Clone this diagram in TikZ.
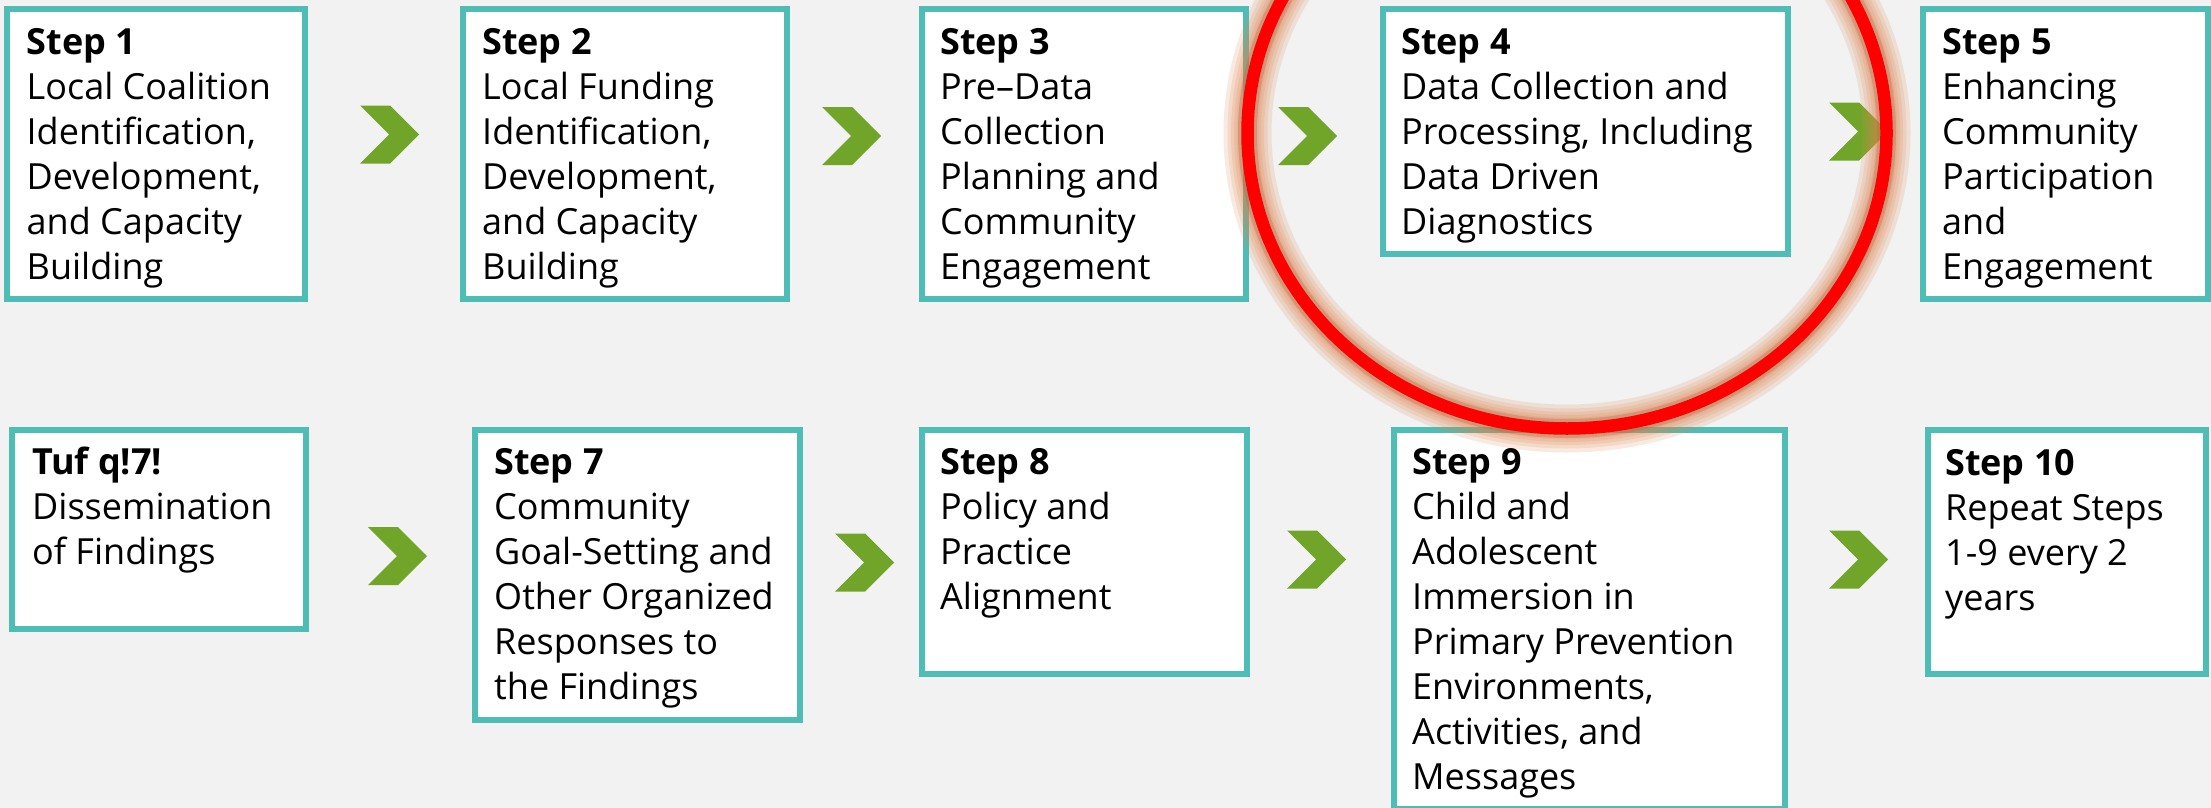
\documentclass[tikz,border=0pt]{standalone}
\usepackage{fontspec}
\setmainfont{Open Sans}
\definecolor{bgc}{HTML}{F2F2F2}
\definecolor{tealc}{HTML}{4DBDB5}
\definecolor{chevc}{HTML}{71A52A}
\definecolor{ringc}{HTML}{FF0000}
\definecolor{glowc}{HTML}{E0834F}
\definecolor{glowdk}{HTML}{B06A4A}
\newcommand{\firstln}{\rule{0pt}{30pt}}
\tikzset{
  stepbox/.style={draw=tealc, line width=6pt, fill=white, inner sep=0pt, rectangle},
  steptext/.style={anchor=north west, align=left, inner sep=0pt, font=\fontsize{36}{45}\selectfont},
  chevron/.pic={\fill[chevc] (0,-29) -- (30,-29) -- (59,0) -- (30,29) -- (0,29) -- (29,0) -- cycle;},
  glowring/.style={draw=glowc, line width=#1, opacity=0.17},
}
\begin{document}
\begin{tikzpicture}[x=1pt,y=-1pt]
\useasboundingbox (0,0) rectangle (2211,808);
\fill[bgc] (0,0) rectangle (2211,808);

% boxes, top row
\node[stepbox, minimum width=298, minimum height=290] (b1) at (156,154) {};
\node[stepbox, minimum width=324, minimum height=290] (b2) at (625,154) {};
\node[stepbox, minimum width=324, minimum height=290] (b3) at (1084,154) {};
\node[stepbox, minimum width=405, minimum height=245] (b4) at (1585.5,131.5) {};
\node[stepbox, minimum width=285, minimum height=290] (b5) at (2065.5,154) {};
% boxes, bottom row
\node[stepbox, minimum width=294, minimum height=199] (b6) at (159,529.5) {};
\node[stepbox, minimum width=325, minimum height=290] (b7) at (637.5,575) {};
\node[stepbox, minimum width=325, minimum height=244] (b8) at (1084.5,552) {};
\node[stepbox, minimum width=391, minimum height=379] (b9) at (1589.5,619.5) {};
\node[stepbox, minimum width=278, minimum height=244] (b10) at (2067,552) {};

% texts (first baseline = anchor y + 30)
\node[steptext] (t1) at (26.5,24) {\firstln\textbf{Step 1}\\Local Coalition\\Identification,\\Development,\\and Capacity\\Building};
\node[steptext] (t2) at (482,24) {\firstln\textbf{Step 2}\\Local Funding\\Identification,\\Development,\\and Capacity\\Building};
\node[steptext] (t3) at (940,24) {\firstln\textbf{Step 3}\\Pre–Data\\Collection\\Planning and\\Community\\Engagement};
\node[steptext] (t4) at (1401,24) {\firstln\textbf{Step 4}\\Data Collection and\\Processing, Including\\Data Driven\\Diagnostics};
\node[steptext] (t5) at (1942,24) {\firstln\textbf{Step 5}\\Enhancing\\Community\\Participation\\and\\Engagement};
\node[steptext] (t6) at (32,444) {\firstln\textbf{Tuf q!7!}\\Dissemination\\of Findings};
\node[steptext] (t7) at (494,444) {\firstln\textbf{Step 7}\\Community\\Goal-Setting and\\Other Organized\\Responses to\\the Findings};
\node[steptext] (t8) at (940,444) {\firstln\textbf{Step 8}\\Policy and\\Practice\\Alignment};
\node[steptext] (t9) at (1412,444) {\firstln\textbf{Step 9}\\Child and\\Adolescent\\Immersion in\\Primary Prevention\\Environments,\\Activities, and\\Messages};
\node[steptext] (t10) at (1945,445) {\firstln\textbf{Step 10}\\Repeat Steps\\1-9 every 2\\years};

% chevrons
\pic (a1) at (360,134.5) {chevron};
\pic (a2) at (822,136) {chevron};
\pic (a3) at (1278,136) {chevron};
\pic (a4) at (1829,131.5) {chevron};
\pic (a6) at (368,556) {chevron};
\pic (a7) at (835,562.5) {chevron};
\pic (a8) at (1287,559.5) {chevron};
\pic (a9) at (1829,559.5) {chevron};

% highlight ring
\coordinate (rc) at (1567,133);
\foreach \w in {48,40,33,27,22}{
  \draw[glowring=\w pt] (rc) ellipse [x radius=319.5, y radius=295.5];
}
\draw[draw=glowdk, line width=19pt, opacity=0.35] (rc) ellipse [x radius=319.5, y radius=295.5];
\draw[draw=ringc, line width=12.5pt] (rc) ellipse [x radius=319.5, y radius=295.5];
\end{tikzpicture}
\end{document}
